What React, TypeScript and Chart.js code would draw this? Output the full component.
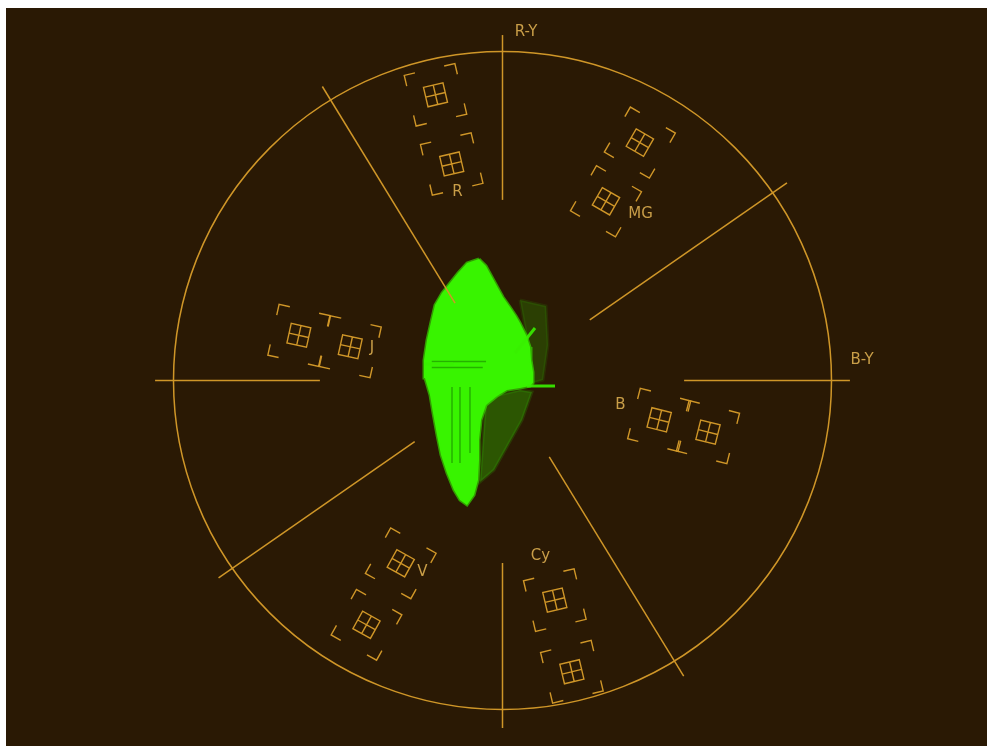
import React, { useEffect, useRef } from "react";
import { Chart, registerables } from "chart.js";

Chart.register(...registerables);

// ---------- data (vectorscope units: circle radius = 1) ----------
const AXIS_ANGLES = [90, 0, 180, 270];
const AXIS_INNER = [0.549, 0.552, 0.555, 0.555];
const AXIS_OUTER = [1.05, 1.056, 1.056, 1.056];

const DIAG_ANGLES = [121.5, 34.8, 214.8, 301.5];
const DIAG_INNER = [0.276, 0.323, 0.325, 0.272];
const DIAG_OUTER = [1.048, 1.053, 1.051, 1.054];

const TARGET_ANGLES = [103.2, 60.0, 345.9, 283.4, 240.9, 167.5];
const TARGET_R75 = [0.676, 0.629, 0.491, 0.686, 0.636, 0.474];
const TARGET_R100 = [0.892, 0.835, 0.644, 0.91, 0.85, 0.634];

const LABELS = ["R-Y", "B-Y", "R", "MG", "B", "Cy", "V", "J"];
const LABEL_U = [0.0714, 1.0927, -0.1368, 0.4195, 0.3587, 0.1155, -0.2432, -0.3967];
const LABEL_V = [1.0578, 0.0623, 0.5714, 0.5061, -0.076, -0.5334, -0.5836, 0.0988];

// main trace outline
const BLOB_U = [
  -0.0714, -0.0502, -0.0319, -0.0137, 0.0015, 0.0228, 0.041, 0.0532, 0.0714, 0.0836,
  0.0866, 0.0927, 0.0927, 0.0836, 0.0532, 0.0137, -0.0167, -0.0502, -0.0653, -0.0714,
  -0.0714, -0.0745, -0.0866, -0.1079, -0.1292, -0.1474, -0.1687, -0.1869, -0.1991, -0.2112,
  -0.2204, -0.2356, -0.2386, -0.2295, -0.2173, -0.2052, -0.1839, -0.1596, -0.1353, -0.1079,
  -0.0714,
];
const BLOB_V = [
  0.3693, 0.348, 0.3146, 0.2812, 0.2538, 0.2234, 0.196, 0.1748, 0.1383, 0.1018,
  0.0623, 0.0258, -0.0076, -0.0167, -0.0228, -0.0289, -0.0471, -0.0745, -0.1201, -0.1809,
  -0.2416, -0.3024, -0.348, -0.3784, -0.3632, -0.3328, -0.2812, -0.2264, -0.1657, -0.0988,
  -0.0441, 0.0076, 0.0623, 0.1231, 0.1778, 0.2295, 0.266, 0.2964, 0.3267, 0.3571,
  0.3693,
];
// dim spread to the right of the lower body
const DIM_U = [-0.0502, 0.0532, 0.0897, 0.0593, 0.0167, -0.0258, -0.0684, -0.0502];
const DIM_V = [-0.0532, -0.0289, -0.035, -0.1201, -0.196, -0.272, -0.3085, -0.0532];
// faint speckle to the right of the upper body
const HAZE_U = [0.0532, 0.1322, 0.1383, 0.1231, 0.0927, 0.0866, 0.0532];
const HAZE_V = [0.2447, 0.2264, 0.1079, 0.0015, -0.0076, 0.0623, 0.2447];
// bright streaks [u1, v1, u2, v2]
const STREAKS = [
  [0.0745, -0.0167, 0.1596, -0.0167],
  [0.038, 0.0836, 0.0988, 0.1596],
  [-0.2386, 0.0502, -0.15, 0.0502],
];
// darker texture lines inside the trace [u1, v1, u2, v2]
const TEXTURE = [
  [-0.215, 0.0578, -0.05, 0.0578],
  [-0.215, 0.0395, -0.06, 0.0395],
  [-0.1535, -0.0198, -0.1535, -0.2508],
  [-0.1292, -0.0198, -0.1292, -0.2508],
  [-0.0988, -0.0198, -0.0988, -0.22],
];

// ---------- layout / style ----------
const BG = "#2A1904";
const GRAT = "#CF9628";
const TEXT = "#C99E48";
const GREEN = "#38F400";
const W = 981;
const H = 738;
const CX = 496.5; // circle centre in canvas px
const CY = 372.5;
const RPX = 329; // circle radius in px
const X_MIN = -CX / RPX;
const X_MAX = (W - CX) / RPX;
const Y_MAX = CY / RPX;
const Y_MIN = -(H - CY) / RPX;
const BOX_HALF = 10;
const BRACKET_HALF = 26;
const ARM = 11;

const rad = (d: number) => (d * Math.PI) / 180;
const pts = (us: number[], vs: number[]) => us.map((u, i) => ({ x: u, y: vs[i] }));

export default function App() {
  const ref = useRef<HTMLCanvasElement>(null);

  useEffect(() => {
    const datasets: any[] = [];
    const segs = (angles: number[], inner: number[], outer: number[]) =>
      angles.forEach((a, i) => {
        datasets.push({
          data: [
            { x: inner[i] * Math.cos(rad(a)), y: inner[i] * Math.sin(rad(a)) },
            { x: outer[i] * Math.cos(rad(a)), y: outer[i] * Math.sin(rad(a)) },
          ],
          showLine: true,
          borderColor: GRAT,
          borderWidth: 1.5,
          pointRadius: 0,
          order: 0,
        });
      });
    segs(AXIS_ANGLES, AXIS_INNER, AXIS_OUTER);
    segs(DIAG_ANGLES, DIAG_INNER, DIAG_OUTER);

    datasets.push({
      data: pts(HAZE_U, HAZE_V),
      showLine: true,
      fill: "shape",
      backgroundColor: "rgba(50,200,0,0.22)",
      borderColor: "rgba(50,200,0,0.12)",
      borderWidth: 3,
      pointRadius: 0,
      order: 5,
    });
    datasets.push({
      data: pts(DIM_U, DIM_V),
      showLine: true,
      fill: "shape",
      backgroundColor: "rgba(50,200,0,0.35)",
      borderColor: "rgba(50,200,0,0.18)",
      borderWidth: 3,
      pointRadius: 0,
      order: 4,
    });
    datasets.push({
      data: pts(BLOB_U, BLOB_V),
      showLine: true,
      fill: "shape",
      backgroundColor: GREEN,
      borderColor: "rgba(56,244,0,0.6)",
      borderWidth: 3,
      pointRadius: 0,
      order: 3,
    });
    TEXTURE.forEach((s) =>
      datasets.push({
        data: [{ x: s[0], y: s[1] }, { x: s[2], y: s[3] }],
        showLine: true,
        borderColor: "rgba(30,150,0,0.7)",
        borderWidth: 1.5,
        pointRadius: 0,
        order: 2,
      })
    );
    STREAKS.forEach((s) =>
      datasets.push({
        data: [{ x: s[0], y: s[1] }, { x: s[2], y: s[3] }],
        showLine: true,
        borderColor: "rgba(56,240,0,0.9)",
        borderWidth: 3,
        pointRadius: 0,
        order: 1,
      })
    );

    const overlay = {
      id: "vectorscope",
      afterDatasetsDraw(chart: any) {
        const ctx = chart.ctx;
        const xs = chart.scales.x;
        const ys = chart.scales.y;
        const cx = xs.getPixelForValue(0);
        const cy = ys.getPixelForValue(0);
        const r = xs.getPixelForValue(1) - cx;
        ctx.save();
        ctx.strokeStyle = GRAT;
        ctx.lineWidth = 1.5;
        ctx.beginPath();
        ctx.arc(cx, cy, r, 0, Math.PI * 2);
        ctx.stroke();

        ctx.lineWidth = 1.4;
        TARGET_ANGLES.forEach((a, i) => {
          [TARGET_R75[i], TARGET_R100[i]].forEach((rr) => {
            const px = xs.getPixelForValue(rr * Math.cos(rad(a)));
            const py = ys.getPixelForValue(rr * Math.sin(rad(a)));
            ctx.save();
            ctx.translate(px, py);
            ctx.rotate(rad(90 - a));
            ctx.beginPath();
            ctx.rect(-BOX_HALF, -BOX_HALF, BOX_HALF * 2, BOX_HALF * 2);
            ctx.moveTo(0, -BOX_HALF);
            ctx.lineTo(0, BOX_HALF);
            ctx.moveTo(-BOX_HALF, 0);
            ctx.lineTo(BOX_HALF, 0);
            [
              [-1, -1],
              [1, -1],
              [1, 1],
              [-1, 1],
            ].forEach(([sx, sy]) => {
              const bx = sx * BRACKET_HALF;
              const by = sy * BRACKET_HALF;
              ctx.moveTo(bx - sx * ARM, by);
              ctx.lineTo(bx, by);
              ctx.lineTo(bx, by - sy * ARM);
            });
            ctx.stroke();
            ctx.restore();
          });
        });

        ctx.fillStyle = TEXT;
        ctx.font = '15px "DejaVu Sans", sans-serif';
        ctx.textAlign = "center";
        ctx.textBaseline = "middle";
        LABELS.forEach((t, i) => {
          ctx.fillText(t, xs.getPixelForValue(LABEL_U[i]), ys.getPixelForValue(LABEL_V[i]));
        });
        ctx.restore();
      },
    };

    const chart = new Chart(ref.current as HTMLCanvasElement, {
      type: "scatter",
      data: { datasets },
      options: {
        animation: false,
        responsive: false,
        maintainAspectRatio: false,
        devicePixelRatio: 1,
        layout: { padding: 0 },
        events: [],
        scales: {
          x: { type: "linear", min: X_MIN, max: X_MAX, display: false },
          y: { type: "linear", min: Y_MIN, max: Y_MAX, display: false },
        },
        plugins: { legend: { display: false }, tooltip: { enabled: false } },
      },
      plugins: [overlay],
    } as any);
    return () => chart.destroy();
  }, []);

  return (
    <div
      style={{
        position: "absolute",
        left: 6,
        top: 8,
        width: W,
        height: H,
        background: BG,
      }}
    >
      <canvas ref={ref} width={W} height={H} style={{ display: "block" }} />
    </div>
  );
}
